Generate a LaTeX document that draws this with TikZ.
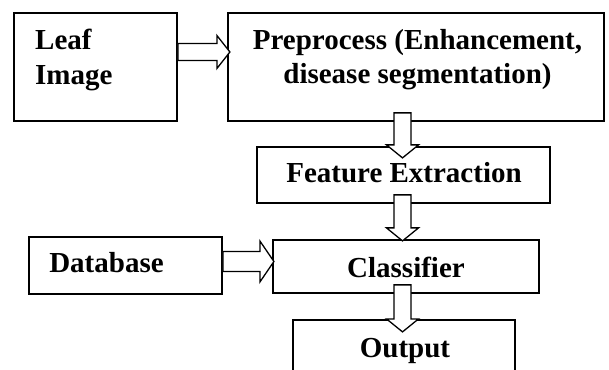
\documentclass[tikz,border=0pt]{standalone}
\usepackage{fontspec}
\setmainfont{Liberation Serif}
\usetikzlibrary{calc}

\tikzset{
	pics/fatarrow/.style n args={4}{code={
		\draw [arrowline] (0,-#2) -- ({#1-#4},-#2) -- ({#1-#4},-#3) -- (#1,0) -- ({#1-#4},#3) -- ({#1-#4},#2) -- (0,#2) -- cycle;
	}}
}

\begin{document}
\begin{tikzpicture}[x=1pt, y=1pt,
	box/.style={draw, line width=1.8pt, inner sep=0pt},
	txt/.style={inner sep=0pt, font=\bfseries\fontsize{29}{34.5}\selectfont},
	arrowline/.style={draw, fill=white, line width=1.3pt, line join=miter}]
	\useasboundingbox (0,0) rectangle (609,369);
	\clip (0,0) rectangle (609,369);
	
	\node [box, minimum width=163pt, minimum height=108pt] (leaf) at (95.5,302) {};
	\node [box, minimum width=376pt, minimum height=108pt] (prep) at (416,302) {};
	\node [box, minimum width=293pt, minimum height=56pt] (feat) at (403.5,194) {};
	\node [box, minimum width=193pt, minimum height=57pt] (db) at (125.5,103.5) {};
	\node [box, minimum width=266pt, minimum height=53pt] (cls) at (406,102.5) {};
	\node [box, minimum width=222pt, minimum height=60pt] (out) at (404,19) {};
	
	\pic (a1) at ($(leaf.east)+(0,15)$) {fatarrow={52}{8.5}{16.5}{13}};
	\pic [rotate=-90] (a2) at ($(prep.south)+(-13.5,9)$) {fatarrow={45}{8.5}{16}{13}};
	\pic [rotate=-90] (a3) at ($(feat.south)+(-1,9)$) {fatarrow={46}{8.5}{16}{13}};
	\pic [rotate=-90] (a4) at ($(cls.south)+(-3.5,9)$) {fatarrow={47}{8.5}{16}{13}};
	\pic (a5) at ($(db.east)+(0,4)$) {fatarrow={51}{10}{20.5}{14}};
	
	\node [txt, align=left, anchor=north west] (leaftxt) at (35,340) {Leaf\\Image};
	\node [txt, align=center, anchor=north] (preptxt) at (417.5,340) {Preprocess (Enhancement,\\disease segmentation)};
	\node [txt, anchor=base] (feattxt) at (404,186) {Feature Extraction};
	\node [txt, anchor=base] (dbtxt) at (106.5,96) {Database};
	\node [txt, anchor=base] (clstxt) at (406,92) {Classifier};
	\node [txt, anchor=base] (outtxt) at (405,12) {Output};
\end{tikzpicture}
\end{document}
